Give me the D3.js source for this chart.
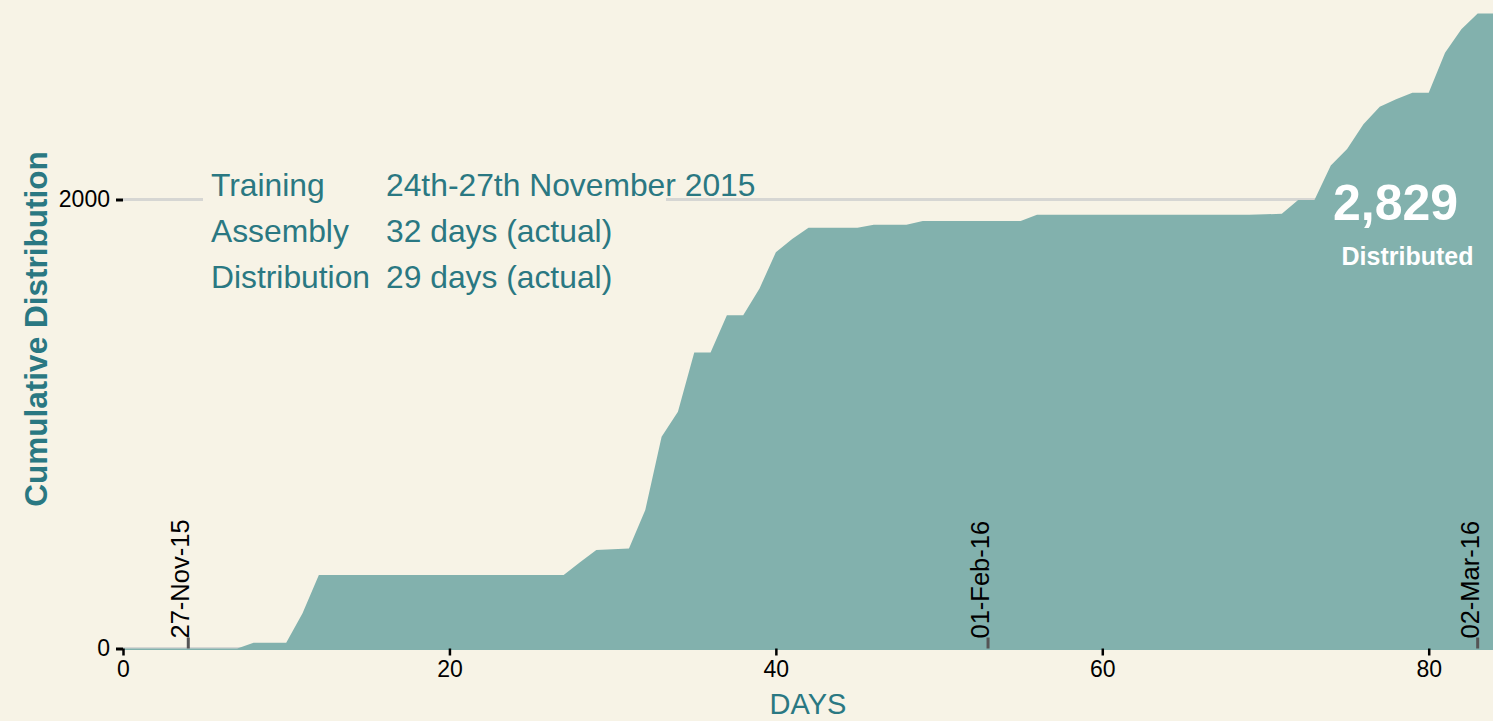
<!DOCTYPE html>
<html>
<head>
<meta charset="utf-8">
<script src="https://cdn.jsdelivr.net/npm/d3@7"></script>
<style>
  html, body { margin: 0; padding: 0; background: #f7f3e6; }
  svg { display: block; font-family: "Liberation Sans", Arial, sans-serif; }
</style>
</head>
<body>
<svg id="chart" width="1493" height="721"></svg>
<script>
// ---- data ----
const days = [0,1,2,3,4,5,6,7,8,9,10,11,12,13,14,15,16,17,18,19,20,21,22,23,24,25,26,27,28,29,30,31,32,33,34,35,36,37,38,39,40,41,42,43,44,45,46,47,48,49,50,51,52,53,54,55,56,57,58,59,60,61,62,63,64,65,66,67,68,69,70,71,72,73,74,75,76,77,78,79,80,81,82,83,84];
const cumulative = [0,0,0,0,0,0,0,0,26,26,26,157,327,327,327,327,327,327,327,327,327,327,327,327,327,327,327,327,384,439,442,445,617,943,1055,1319,1319,1484,1484,1604,1765,1824,1874,1874,1874,1874,1888,1888,1888,1904,1904,1904,1904,1904,1904,1904,1932,1932,1932,1932,1932,1932,1932,1932,1932,1932,1932,1932,1932,1932,1934,1937,1998,1998,2151,2225,2335,2413,2446,2476,2476,2654,2758,2829,2829];
const xTicks = [0, 20, 40, 60, 80];
const yTicks = [0, 2000];
const dateMarkDays = [4, 53, 83];
const dateMarkLabels = ["27-Nov-15", "01-Feb-16", "02-Mar-16"];
const infoLabels = ["Training", "Assembly", "Distribution"];
const infoValues = ["24th-27th November 2015", "32 days (actual)", "29 days (actual)"];
const totalLabel = "2,829";
const totalCaption = "Distributed";

// ---- styles ----
const BG = "#f7f3e6", AREA = "#82b1ad", TEAL = "#2a7882", GRID = "#d6d6d3";
const FONT = "'Liberation Sans', Arial, sans-serif";

const svg = d3.select("#chart");
const x = d3.scaleLinear().domain([0, 84]).range([123, 1494]);
const y = d3.scaleLinear().domain([0, 2000]).range([648.5, 199.5]);

svg.append("rect").attr("width", 1493).attr("height", 721).attr("fill", BG);

// gridlines
svg.append("g").selectAll("line").data(yTicks).join("line")
  .attr("x1", x(0)).attr("x2", 1493)
  .attr("y1", d => y(d)).attr("y2", d => y(d))
  .attr("stroke", GRID).attr("stroke-width", 3);

// area
const data = days.map((d, i) => ({ day: d, v: cumulative[i] }));
svg.append("path").datum(data)
  .attr("fill", AREA)
  .attr("d", d3.area().x(d => x(d.day)).y0(y(0) + 1.6).y1(d => y(d.v)));

// info block background (hides gridline)
svg.append("rect").attr("x", 203).attr("y", 165).attr("width", 463).attr("height", 130).attr("fill", BG);

const info = svg.append("g").attr("fill", TEAL).attr("font-size", 31.8);
infoLabels.forEach((t, i) => {
  info.append("text").attr("x", 211).attr("y", 196 + i * 46).text(t);
  info.append("text").attr("x", 386).attr("y", 196 + i * 46).text(infoValues[i]);
});

// y axis
const yAxis = svg.append("g").attr("transform", `translate(${x(0)},0)`)
  .call(d3.axisLeft(y).tickValues(yTicks).tickFormat(d3.format("d")).tickSize(7).tickPadding(6));
yAxis.select(".domain").remove();
yAxis.selectAll(".tick line").attr("stroke", "#000").attr("stroke-width", 3);
yAxis.selectAll(".tick text").attr("font-size", 23).attr("fill", "#000").attr("font-family", FONT);

// x axis
const xAxis = svg.append("g").attr("transform", `translate(0,${y(0)})`)
  .call(d3.axisBottom(x).tickValues(xTicks).tickFormat(d3.format("d")).tickSize(7).tickPadding(5));
xAxis.select(".domain").remove();
xAxis.selectAll(".tick line").attr("stroke", "#000").attr("stroke-width", 2.5);
xAxis.selectAll(".tick text").attr("font-size", 23).attr("fill", "#000").attr("font-family", FONT);

// date markers
const marks = svg.append("g");
marks.selectAll("line").data(dateMarkDays).join("line")
  .attr("x1", d => x(d)).attr("x2", d => x(d))
  .attr("y1", y(0)).attr("y2", y(0) - 11)
  .attr("stroke", "#555").attr("stroke-width", 3);
marks.selectAll("text").data(dateMarkDays).join("text")
  .attr("transform", d => `translate(${x(d) + 1},${y(0) - 10}) rotate(-90)`)
  .attr("font-size", 25.5).attr("fill", "#000")
  .text((d, i) => dateMarkLabels[i]);

// axis titles
svg.append("text")
  .attr("transform", `translate(47,329) rotate(-90)`)
  .attr("text-anchor", "middle").attr("font-size", 31.5).attr("font-weight", "bold")
  .attr("fill", TEAL).text("Cumulative Distribution");
svg.append("text")
  .attr("x", (x(0) + 1493) / 2).attr("y", 714)
  .attr("text-anchor", "middle").attr("font-size", 29)
  .attr("fill", TEAL).text("DAYS");

// total annotation
svg.append("text").attr("x", 1395.5).attr("y", 220)
  .attr("text-anchor", "middle").attr("font-size", 50).attr("font-weight", "bold")
  .attr("fill", "#fff").text(totalLabel);
svg.append("text").attr("x", 1407.5).attr("y", 265)
  .attr("text-anchor", "middle").attr("font-size", 25).attr("font-weight", "bold")
  .attr("fill", "#fff").text(totalCaption);
</script>
</body>
</html>
